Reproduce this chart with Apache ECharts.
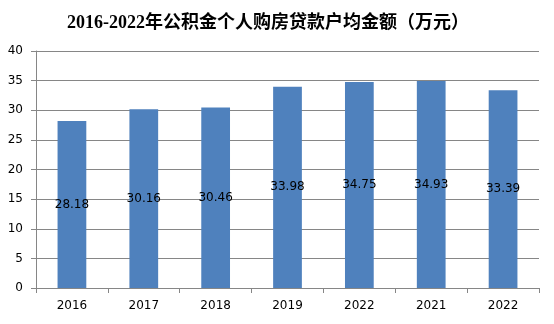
<!DOCTYPE html>
<html><head><meta charset="utf-8">
<script src="https://cdn.jsdelivr.net/npm/echarts@6/dist/echarts.min.js"></script>
<style>html,body{margin:0;padding:0;background:#fff}#c{width:554px;height:324px}</style>
</head><body><div id="c"></div>
<script>
var titleText = '2016-2022年公积金个人购房贷款户均金额（万元）';
var categories = ['2016', '2017', '2018', '2019', '2022', '2021', '2022'];
var values = [28.18, 30.16, 30.46, 33.98, 34.75, 34.93, 33.39];
var yTicks = {min: 0, max: 40, interval: 5};

var chart = echarts.init(document.getElementById('c'));
chart.setOption({
  animation: false,
  title: {
    text: titleText, left: 62, top: 9,
    textStyle: {fontFamily: "'Liberation Serif','Noto Sans CJK SC',serif", fontWeight: 'bold', fontSize: 18, color: '#000'}
  },
  grid: {left: 36, right: 15, top: 51, bottom: 36},
  xAxis: {
    type: 'category', data: categories,
    axisLine: {lineStyle: {color: '#868686'}},
    axisTick: {show: true, length: 5, lineStyle: {color: '#868686'}},
    axisLabel: {color: '#000', fontSize: 12, margin: 12, fontFamily: 'Verdana, DejaVu Sans, sans-serif'}
  },
  yAxis: {
    type: 'value', min: yTicks.min, max: yTicks.max, interval: yTicks.interval,
    axisLine: {show: true, lineStyle: {color: '#868686'}},
    axisTick: {show: true, length: 5, lineStyle: {color: '#868686'}},
    splitLine: {lineStyle: {color: '#868686'}},
    axisLabel: {color: '#000', fontSize: 12, margin: 13, fontFamily: 'Verdana, DejaVu Sans, sans-serif'}
  },
  series: [{
    type: 'bar', data: values, barWidth: '40%',
    itemStyle: {color: '#4F81BD'},
    label: {show: true, position: 'inside', color: '#000', fontSize: 12, fontFamily: 'Verdana, DejaVu Sans, sans-serif'}
  }]
});
</script></body></html>
